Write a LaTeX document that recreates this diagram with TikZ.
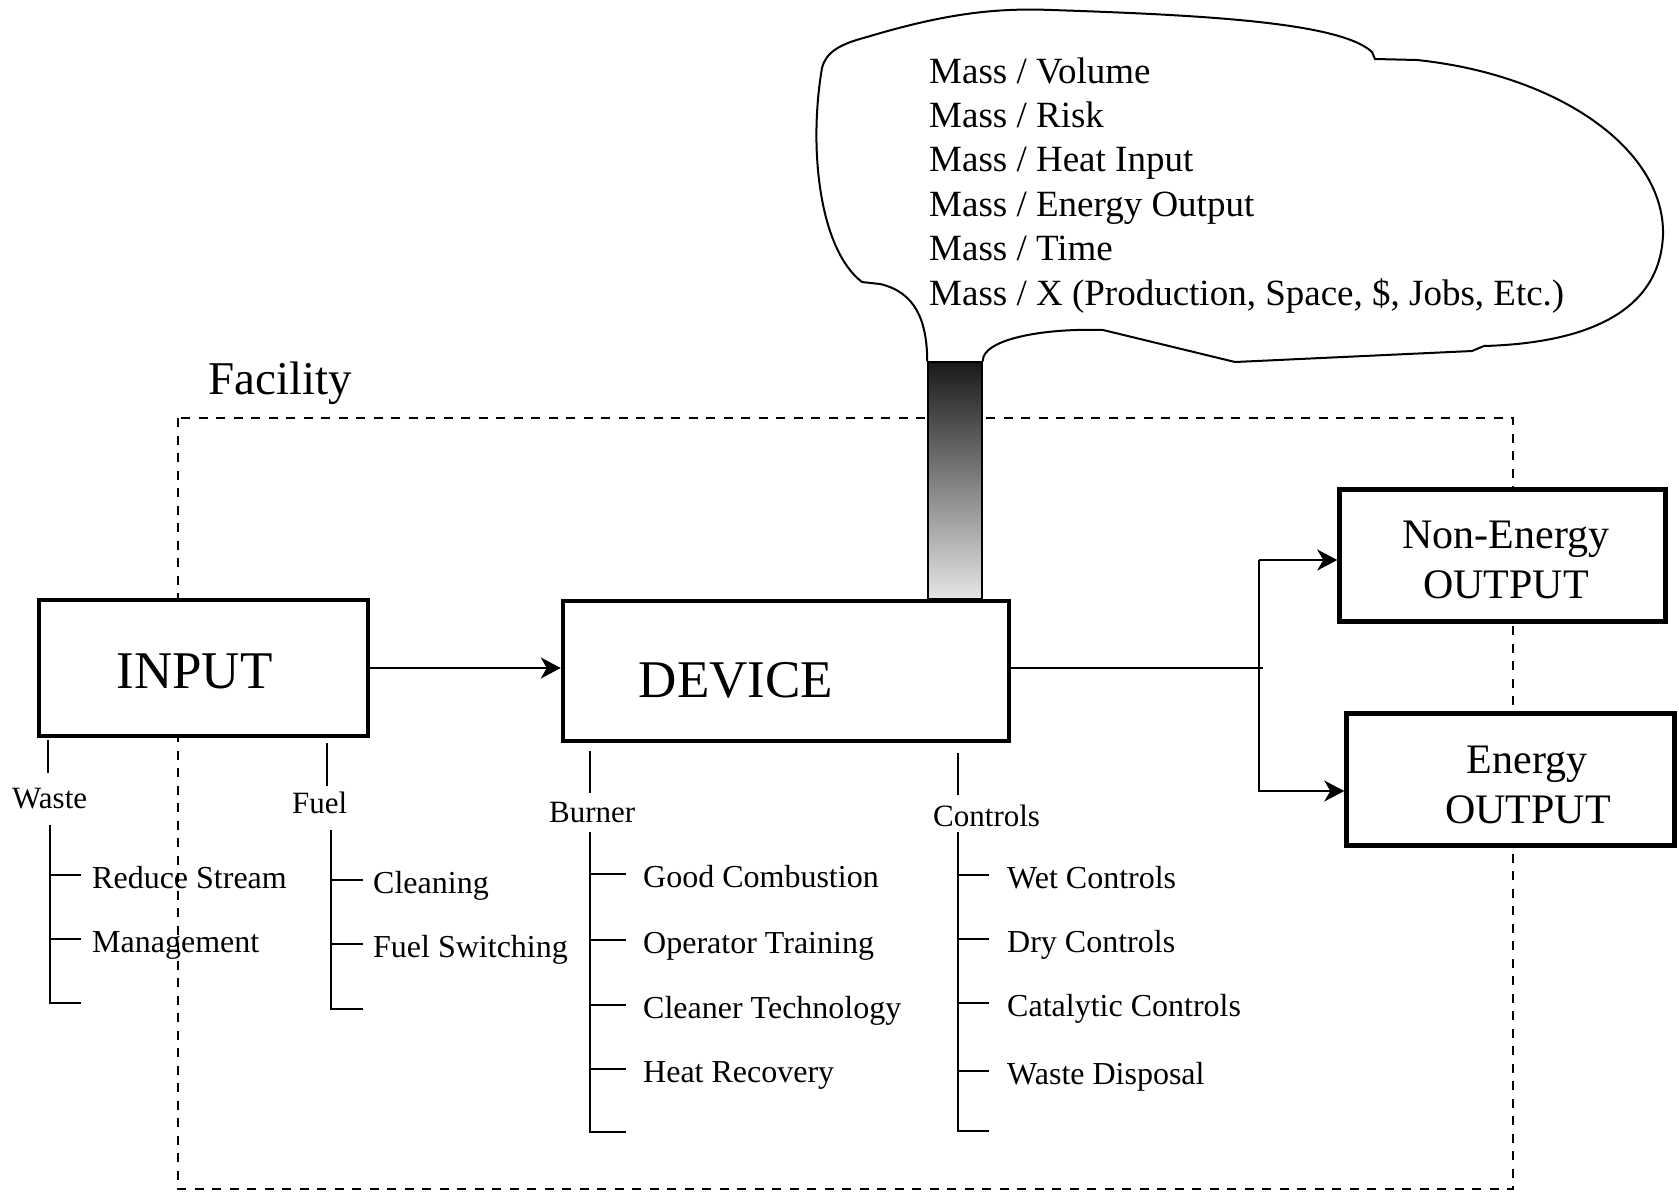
\documentclass[tikz,border=0pt]{standalone}
\usepackage{fontspec}
\setmainfont{Liberation Serif}
\usetikzlibrary{calc,arrows.meta}

\tikzset{
  block/.style={draw, fill=white, line width=4.5pt, inner sep=0pt},
  blocktext/.style={anchor=base, inner sep=0pt, font=\fontsize{53}{60}\selectfont},
  outtext/.style={anchor=base, inner sep=0pt, font=\fontsize{42}{50}\selectfont},
  flow/.style={line width=2pt, -{Stealth[length=20pt,width=21pt,inset=6pt]}},
  branch/.style={line width=2pt},
  cattext/.style={anchor=base west, inner sep=0pt, font=\fontsize{31}{36}\selectfont},
  leaf/.style={anchor=base west, inner sep=0pt, text height=27pt, text depth=1pt,
    font=\fontsize{32}{38}\selectfont},
  ratiotext/.style={anchor=base west, inner sep=0pt, font=\fontsize{37}{44}\selectfont}
}

\begin{document}
\begin{tikzpicture}[x=1pt,y=-1pt]
\useasboundingbox (0,0) rectangle (1679,1195);

% facility boundary
\draw[line width=2.6pt, dash pattern=on 9pt off 8.5pt] (178,418) rectangle (1513,1189);
\node[anchor=base west, inner sep=0pt, font=\fontsize{47}{52}\selectfont] (facility) at (208,394) {Facility};

% main blocks
\node[block, minimum width=329pt, minimum height=136pt] (input) at (203.5,668) {};
\node[blocktext] (inputlbl) at (194.5,688) {INPUT};
\node[block, minimum width=446pt, minimum height=140pt] (device) at (786,671) {};
\node[blocktext] (devicelbl) at (736,697) {DEVICE};
\node[block, minimum width=326pt, minimum height=132pt] (nonenergy) at (1502.5,555.5) {};
\node[outtext] (nonenergylbl) at (1506,548) {Non-Energy};
\node[outtext] (nonenergyout) at (1506,598) {OUTPUT};
\node[block, minimum width=328pt, minimum height=132pt] (energy) at (1510.5,779.5) {};
\node[outtext] (energylbl) at (1527,773) {Energy};
\node[outtext] (energyout) at (1528,823) {OUTPUT};

% stack and cloud
\node[draw, line width=1.5pt, top color=black!90, bottom color=black!10,
  minimum width=54pt, minimum height=237pt, inner sep=0pt] (stack) at (955,480.5) {};
\draw[line width=2pt] (stack.north west)
  .. controls (927,320) and (915,292) .. (880,284) -- (862,282)
  .. controls (820,250) and (808,150) .. (822,68)
  .. controls (826,52) and (840,44) .. (867,37)
  .. controls (950,12) and (1000,8) .. (1052,10)
  .. controls (1200,15) and (1340,22) .. (1372,52)
  -- (1375,59) -- (1417,60)
  .. controls (1560,75) and (1665,150) .. (1663,235)
  .. controls (1660,310) and (1590,343) .. (1484,346)
  -- (1472,351) -- (1235,362) -- (1103,330)
  .. controls (1040,328) and (982,340) .. (stack.north east);
\foreach \ratio [count=\k] in {Volume, Risk, Heat Input, Energy Output, Time,
    {X (Production, Space, \$, Jobs, Etc.)}}
  \node[ratiotext] (ratio\k) at (929,{83+44.4*(\k-1)}) {Mass / \ratio};

% flows
\draw[flow] (input.east) -- (input.east -| device.west);
\coordinate (split) at (1259,668);
\coordinate (upturn) at (1259,560);
\coordinate (downturn) at (1259,791);
\draw[branch] (device.east |- split) -- ($(split)+(4,0)$);
\draw[flow] (upturn) -- (upturn -| nonenergy.west);
\draw[flow] (upturn) -- (downturn) -- (downturn -| energy.west);

% waste branch
\node[cattext] (waste) at (12,808) {Waste};
\coordinate (wastestub) at (48,773);
\draw[branch] (input.south -| wastestub) ++(0,2) -- (wastestub);
\coordinate (wastespine) at (50,825);
\draw[branch] (wastespine) |- ++(31,178);
\node[leaf] (reduce) at (92,888) {Reduce Stream};
\node[leaf] (manage) at (92,952) {Management};
\foreach \leaf in {reduce,manage}
  \draw[branch] (\leaf.west -| wastespine) -- ++(31,0);

% fuel branch
\node[cattext] (fuel) at (292,813) {Fuel};
\coordinate (fuelstub) at (327,786);
\draw[branch] (input.south -| fuelstub) ++(0,5) -- (fuelstub);
\coordinate (fuelspine) at (331,830);
\draw[branch] (fuelspine) |- ++(32,179);
\node[leaf] (clean) at (373,893) {Cleaning};
\node[leaf] (switch) at (373,957) {Fuel Switching};
\foreach \leaf in {clean,switch}
  \draw[branch] (\leaf.west -| fuelspine) -- ++(32,0);

% burner branch
\node[cattext] (burner) at (549,822) {Burner};
\coordinate (burnerstub) at (590,793);
\draw[branch] (device.south -| burnerstub) ++(0,8) -- (burnerstub);
\coordinate (burnerspine) at (590,832);
\draw[branch] (burnerspine) |- ++(36,300);
\node[leaf] (combust) at (643,887) {Good Combustion};
\node[leaf] (training) at (643,953) {Operator Training};
\node[leaf] (cleaner) at (643,1018) {Cleaner Technology};
\node[leaf] (recovery) at (643,1082) {Heat Recovery};
\foreach \leaf in {combust,training,cleaner,recovery}
  \draw[branch] (\leaf.west -| burnerspine) -- ++(36,0);

% controls branch
\node[cattext] (controls) at (933,826) {Controls};
\coordinate (controlstub) at (958,795);
\draw[branch] (device.south -| controlstub) ++(0,10) -- (controlstub);
\coordinate (controlspine) at (958,832);
\draw[branch] (controlspine) |- ++(31,299);
\node[leaf] (wet) at (1007,888) {Wet Controls};
\node[leaf] (dry) at (1007,952) {Dry Controls};
\node[leaf] (catalytic) at (1007,1016) {Catalytic Controls};
\node[leaf] (disposal) at (1007,1084) {Waste Disposal};
\foreach \leaf in {wet,dry,catalytic,disposal}
  \draw[branch] (\leaf.west -| controlspine) -- ++(31,0);
\end{tikzpicture}
\end{document}
